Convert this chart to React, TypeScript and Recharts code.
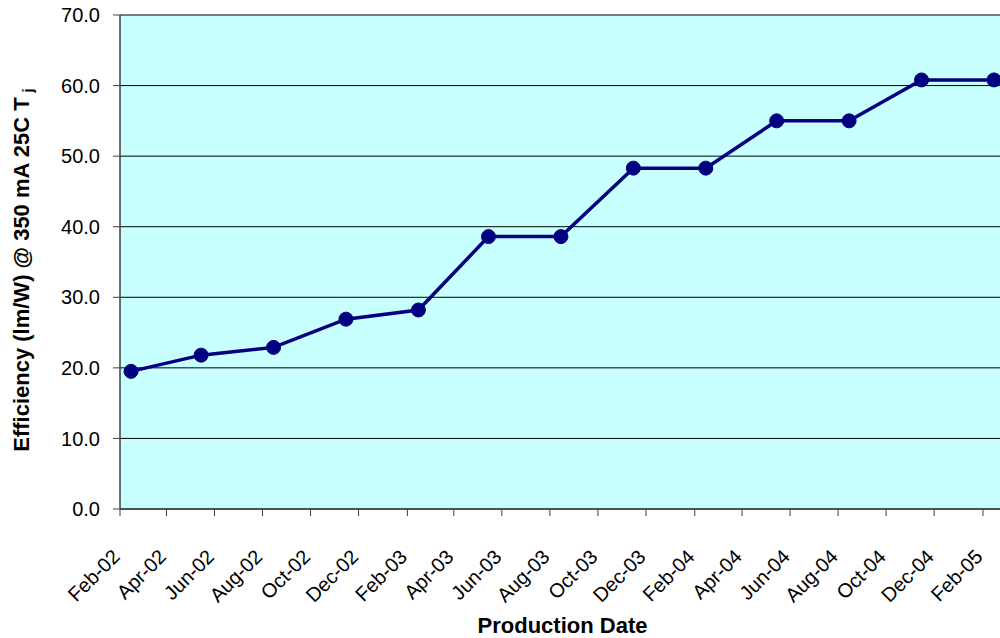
import React from "react";
import { LineChart, Line, XAxis, YAxis, CartesianGrid, Label } from "recharts";

const productionDates = [
  "2002-02-15", "2002-05-15", "2002-08-15", "2002-11-15",
  "2003-02-15", "2003-05-15", "2003-08-15", "2003-11-15",
  "2004-02-15", "2004-05-15", "2004-08-15", "2004-11-15",
  "2005-02-15",
];
const efficiency = [19.5, 21.8, 22.9, 26.9, 28.2, 38.6, 38.6, 48.3, 48.3, 55.0, 55.0, 60.8, 60.8];

const tickDates = [
  "2002-02-01", "2002-04-01", "2002-06-01", "2002-08-01", "2002-10-01", "2002-12-01",
  "2003-02-01", "2003-04-01", "2003-06-01", "2003-08-01", "2003-10-01", "2003-12-01",
  "2004-02-01", "2004-04-01", "2004-06-01", "2004-08-01", "2004-10-01", "2004-12-01",
  "2005-02-01",
];
const tickLabels = [
  "Feb-02", "Apr-02", "Jun-02", "Aug-02", "Oct-02", "Dec-02",
  "Feb-03", "Apr-03", "Jun-03", "Aug-03", "Oct-03", "Dec-03",
  "Feb-04", "Apr-04", "Jun-04", "Aug-04", "Oct-04", "Dec-04",
  "Feb-05",
];
const yTicks = [0, 10, 20, 30, 40, 50, 60, 70];
const xDomainDates = ["2002-02-01", "2005-03-01"];

const toDay = (s: string) => {
  const [y, m, d] = s.split("-").map(Number);
  return Date.UTC(y, m - 1, d) / 86400000;
};

const data = productionDates.map((d, i) => ({ t: toDay(d), v: efficiency[i] }));
const tickDays = tickDates.map(toDay);

const FONT = "'Liberation Sans', Arial, sans-serif";

const XTick = (props: any) => {
  const { x, y, payload } = props;
  const idx = tickDays.indexOf(payload.value);
  const label = idx >= 0 ? tickLabels[idx] : "";
  const px = x + 1;
  const py = y + 40;
  return (
    <text
      x={px}
      y={py}
      transform={`rotate(-45, ${px}, ${py})`}
      textAnchor="end"
      fontSize={20}
      fontFamily={FONT}
      fill="#000"
    >
      {label}
    </text>
  );
};

const YTitle = (props: any) => {
  const vb = props.viewBox || { x: 0, y: 15, width: 120, height: 494 };
  const cx = 29;
  const cy = vb.y + vb.height / 2 + 8;
  return (
    <text
      transform={`translate(${cx}, ${cy}) rotate(-90)`}
      textAnchor="middle"
      fontSize={22}
      fontWeight="bold"
      fontFamily={FONT}
      fill="#000"
    >
      Efficiency (lm/W) @ 350 mA 25C T
      <tspan fontSize={15} dx={5} dy={4}>j</tspan>
    </text>
  );
};

const XTitle = (props: any) => {
  const vb = props.viewBox || { x: 120, y: 509, width: 885, height: 129 };
  return (
    <text
      x={vb.x + vb.width / 2}
      y={633}
      textAnchor="middle"
      fontSize={22}
      fontWeight="bold"
      fontFamily={FONT}
      fill="#000"
    >
      Production Date
    </text>
  );
};

export default function App() {
  return (
    <div
      style={{
        position: "fixed",
        top: 0,
        left: 0,
        width: 1000,
        height: 638,
        overflow: "hidden",
        background: "#fff",
      }}
    >
      <LineChart
        width={1010}
        height={638}
        data={data}
        margin={{ top: 15, right: 5, bottom: 0, left: 0 }}
      >
        <CartesianGrid
          vertical={false}
          horizontal={true}
          stroke="#000"
          strokeWidth={1}
          fill="#C8FFFF"
          fillOpacity={1}
        />
        <XAxis
          type="number"
          dataKey="t"
          domain={[toDay(xDomainDates[0]), toDay(xDomainDates[1])]}
          ticks={tickDays}
          interval={0}
          tick={<XTick />}
          tickSize={7}
          tickLine={{ stroke: "#404040" }}
          axisLine={{ stroke: "#404040", strokeWidth: 1.5 }}
          height={129}
          allowDataOverflow
        >
          <Label content={<XTitle />} />
        </XAxis>
        <YAxis
          type="number"
          domain={[0, 70]}
          ticks={yTicks}
          interval={0}
          width={120}
          tickSize={7}
          tickMargin={13}
          tickFormatter={(v: number) => v.toFixed(1)}
          tick={{ fontSize: 20, fill: "#000", fontFamily: FONT }}
          tickLine={{ stroke: "#404040" }}
          axisLine={{ stroke: "#404040", strokeWidth: 1.5 }}
        >
          <Label content={<YTitle />} />
        </YAxis>
        <Line
          type="linear"
          dataKey="v"
          stroke="#000080"
          strokeWidth={3.5}
          dot={{ r: 7, fill: "#000080", stroke: "#000080", strokeWidth: 1 }}
          activeDot={false}
          isAnimationActive={false}
        />
      </LineChart>
    </div>
  );
}
